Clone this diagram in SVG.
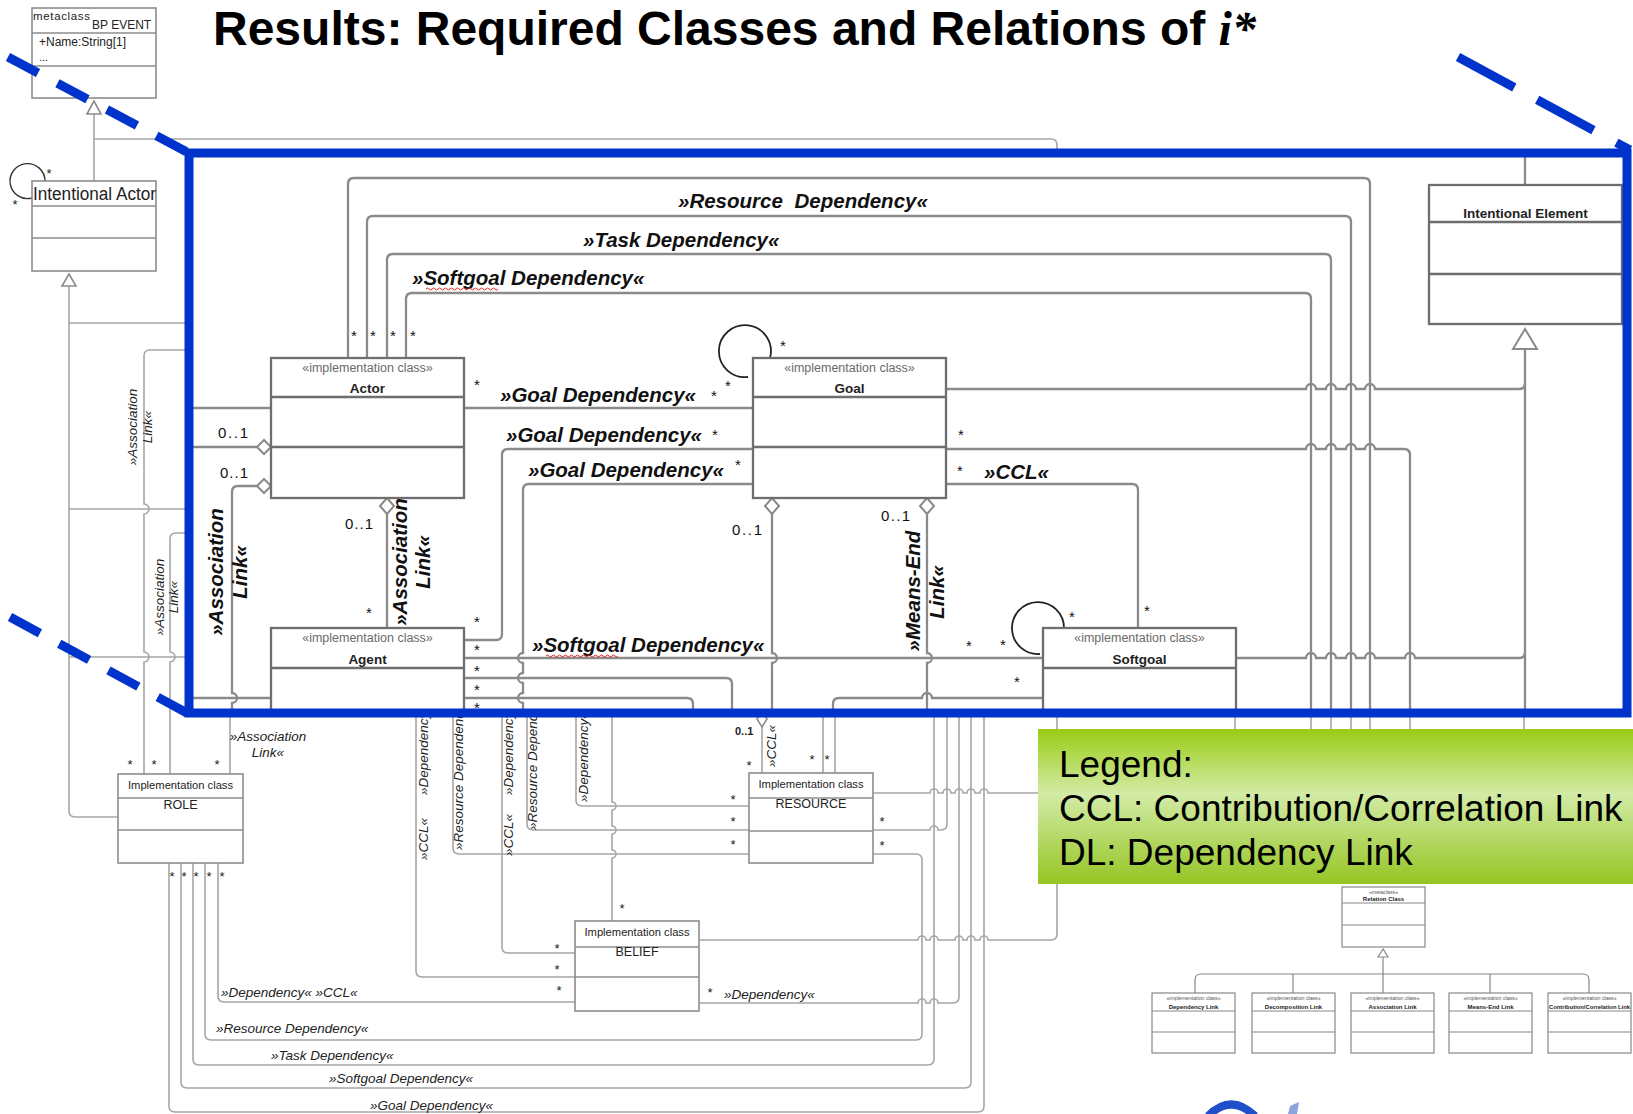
<svg xmlns="http://www.w3.org/2000/svg" width="1633" height="1114" viewBox="0 0 1633 1114">
<defs>
<style>
.o{fill:none;stroke:#a6a6a6;stroke-width:1.6}
.ob{fill:#fff;stroke:#8c8c8c;stroke-width:1.6}
.od{stroke:#8c8c8c;stroke-width:1.4}
.i{fill:none;stroke:#8a8a8a;stroke-width:2.3}
.ib{fill:#fff;stroke:#6e6e6e;stroke-width:2.3}
.dv{stroke:#6e6e6e;stroke-width:2.3}
.dm{fill:#fff;stroke:#8a8a8a;stroke-width:2}
.f{font-family:"Liberation Sans",Arial,sans-serif}
.lbl{font-family:"Liberation Sans",Arial,sans-serif;font-weight:bold;font-style:italic;font-size:20.5px;fill:#111}
.sl{font-family:"Liberation Sans",Arial,sans-serif;font-style:italic;font-size:13.5px;fill:#222}
.st{font-family:"Liberation Sans",Arial,sans-serif;font-size:15px;fill:#111;text-anchor:middle}
.sto{font-family:"Liberation Sans",Arial,sans-serif;font-size:13px;fill:#222;text-anchor:middle}
.hdr{font-family:"Liberation Sans",Arial,sans-serif;font-size:12.5px;fill:#6a6a6a;text-anchor:middle}
.nm{font-family:"Liberation Sans",Arial,sans-serif;font-size:13.5px;font-weight:bold;fill:#222;text-anchor:middle}
.ohdr{font-family:"Liberation Sans",Arial,sans-serif;font-size:11.2px;fill:#222;text-anchor:middle}
.onm{font-family:"Liberation Sans",Arial,sans-serif;font-size:12.5px;fill:#222;text-anchor:middle}
.num{font-family:"Liberation Sans",Arial,sans-serif;font-size:15px;fill:#111}
.blue{fill:none;stroke:#0033cc;stroke-width:9}
.dash{fill:none;stroke:#0033cc;stroke-width:9}
.mb{fill:#fff;stroke:#888;stroke-width:1.2}
.ml{fill:none;stroke:#888;stroke-width:1.2}
.mh{font-family:"Liberation Sans",Arial,sans-serif;font-size:5.2px;fill:#555;text-anchor:middle}
.mn{font-family:"Liberation Sans",Arial,sans-serif;font-size:6px;font-weight:bold;fill:#222;text-anchor:middle}
.leg{font-family:"Liberation Sans",Arial,sans-serif;font-size:37px;fill:#000}
.wv{fill:none;stroke:#e02020;stroke-width:1}
</style>
<linearGradient id="lg" x1="0" y1="0" x2="0" y2="1">
<stop offset="0" stop-color="#99cc14"/>
<stop offset="0.42" stop-color="#d3eba6"/>
<stop offset="1" stop-color="#95c523"/>
</linearGradient>
<clipPath id="cb"><rect x="189" y="153" width="1438" height="560"/></clipPath>
</defs>
<rect x="0" y="0" width="1633" height="1114" fill="#fff"/>

<!-- ===== outer (original) diagram connectors ===== -->
<g id="connectors-outer">
<path class="o" d="M94 114V181"/>
<path class="o" d="M94 139H1051Q1057 139 1057 145V153"/>
<path class="o" d="M69 286V811Q69 817 75 817H118"/>
<path class="o" d="M69 323H189"/>
<path class="o" d="M69 509H189"/>
<path class="o" d="M69 657H189"/>
<path class="o" d="M189 350H150Q144 350 144 356V504a5 5 0 0 1 0 10V652a5 5 0 0 1 0 10V774"/>
<path class="o" d="M189 533H176Q170 533 170 539V652a5 5 0 0 1 0 10V774"/>
<path class="o" d="M230 713V774"/>
<path class="o" d="M218 863V996Q218 1002 224 1002H575"/>
<path class="o" d="M205 863V1034Q205 1040 211 1040H916Q922 1040 922 1034V860Q922 854 916 854H873"/>
<path class="o" d="M193 863V1059Q193 1065 199 1065H928Q934 1065 934 1059V713"/>
<path class="o" d="M181 863V1082Q181 1088 187 1088H965Q971 1088 971 1082V713"/>
<path class="o" d="M169 863V1106Q169 1112 175 1112H978Q984 1112 984 1106V713"/>
<path class="o" d="M873 793H930a4 4 0 0 1 8 0H943a4 4 0 0 1 8 0H955a4 4 0 0 1 8 0H967a4 4 0 0 1 8 0H980a4 4 0 0 1 8 0H1045"/>
<path class="o" d="M873 830H930a4 4 0 0 1 8 0H941Q947 830 947 824V713"/>
<path class="o" d="M699 940H918a4 4 0 0 1 8 0H930a4 4 0 0 1 8 0H955a4 4 0 0 1 8 0H967a4 4 0 0 1 8 0H980a4 4 0 0 1 8 0H1051Q1057 940 1057 934V713"/>
<path class="o" d="M699 1003H918a4 4 0 0 1 8 0H930a4 4 0 0 1 8 0H953Q959 1003 959 997V713"/>
<path class="o" d="M416 713V971Q416 977 422 977H575"/>
<path class="o" d="M749 854H459Q453 854 453 848V713"/>
<path class="o" d="M502 713V947Q502 953 508 953H575"/>
<path class="o" d="M527 713V824Q527 830 533 830H749"/>
<path class="o" d="M576 713V800Q576 806 582 806H749"/>
<path class="o" d="M612 713V802a4 4 0 0 1 0 8V826a4 4 0 0 1 0 8V850a4 4 0 0 1 0 8V921"/>
<path class="o" d="M762 727V773"/>
<polygon class="ob" points="762,711 767,719 762,727 757,719"/>
<path class="o" d="M823 713V773M835 713V773"/>
<path class="o" d="M1235 713V745M1311 713V745M1331 713V745M1351 713V745M1370 713V745M1410 713V745M1524 713V745"/>
<polygon class="ob" points="94,101 87,114 101,114"/>
<polygon class="ob" points="69,274 62,286 76,286"/>
<path d="M45 181A17.5 17.5 0 1 0 32 198" fill="none" stroke="#333" stroke-width="1.4"/>
</g>

<g id="labels-outer">
<text class="sto" x="49" y="178" font-size="12">*</text>
<text class="sto" x="15" y="209" font-size="12">*</text>
<text class="sl" font-size="13" transform="translate(137,427) rotate(-90)" text-anchor="middle">»Association</text>
<text class="sl" font-size="13" transform="translate(152,427) rotate(-90)" text-anchor="middle">Link«</text>
<text class="sl" font-size="13" transform="translate(164,597) rotate(-90)" text-anchor="middle">»Association</text>
<text class="sl" font-size="13" transform="translate(178,597) rotate(-90)" text-anchor="middle">Link«</text>
<text class="sl" font-size="13" x="268" y="741" text-anchor="middle">»Association</text>
<text class="sl" font-size="13" x="268" y="757" text-anchor="middle">Link«</text>
<text class="sto" x="130" y="769">*</text><text class="sto" x="154" y="769">*</text><text class="sto" x="217" y="769">*</text>
<text class="sto" x="172" y="881">*</text><text class="sto" x="184" y="881">*</text><text class="sto" x="196" y="881">*</text><text class="sto" x="209" y="881">*</text><text class="sto" x="222" y="881">*</text>
<text class="sl" x="221" y="997">»Dependency« »CCL«</text>
<text class="sl" x="216" y="1033">»Resource Dependency«</text>
<text class="sl" x="271" y="1060">»Task Dependency«</text>
<text class="sl" x="329" y="1083">»Softgoal Dependency«</text>
<text class="sl" x="370" y="1110">»Goal Dependency«</text>
<text class="sl" x="724" y="999">»Dependency«</text>
<text class="sl" font-size="13" transform="translate(428,860) rotate(-90)">»CCL«</text>
<text class="sl" font-size="13" transform="translate(428,795) rotate(-90)">»Dependency«</text>
<text class="sl" font-size="13" transform="translate(463,850) rotate(-90)">»Resource Dependency«</text>
<text class="sl" font-size="13" transform="translate(513,856) rotate(-90)">»CCL«</text>
<text class="sl" font-size="13" transform="translate(513,795) rotate(-90)">»Dependency«</text>
<text class="sl" font-size="13" transform="translate(537,830) rotate(-90)">»Resource Dependency«</text>
<text class="sl" font-size="13" transform="translate(588,802) rotate(-90)">»Dependency«</text>
<text class="sl" font-size="12" transform="translate(776,767) rotate(-90)">»CCL«</text>
<text class="f" x="735" y="735" font-size="11" font-weight="bold" fill="#222">0..1</text>
<text class="sto" x="733" y="804">*</text><text class="sto" x="733" y="826">*</text><text class="sto" x="733" y="849">*</text>
<text class="sto" x="882" y="826">*</text><text class="sto" x="882" y="850">*</text>
<text class="sto" x="749" y="770">*</text><text class="sto" x="812" y="764">*</text><text class="sto" x="827" y="764">*</text>
<text class="sto" x="557" y="953">*</text><text class="sto" x="557" y="974">*</text><text class="sto" x="559" y="995">*</text>
<text class="sto" x="622" y="913">*</text><text class="sto" x="710" y="997">*</text>
</g>

<g id="bp-event">
<rect class="ob" x="32" y="8" width="124" height="90"/>
<line class="od" x1="32" y1="33" x2="156" y2="33"/><line class="od" x1="32" y1="66" x2="156" y2="66"/>
<text class="f" x="33" y="20" font-size="11.5" fill="#222" textLength="57">metaclass</text>
<text class="f" x="92" y="29" font-size="12" fill="#222">BP EVENT</text>
<text class="f" x="39" y="46" font-size="12" fill="#222">+Name:String[1]</text>
<text class="f" x="39" y="61" font-size="11" fill="#222">...</text>
</g>
<g id="intentional-actor">
<rect class="ob" x="32" y="181" width="124" height="90"/>
<line class="od" x1="32" y1="206" x2="156" y2="206"/><line class="od" x1="32" y1="238" x2="156" y2="238"/>
<text class="f" x="33" y="200" font-size="18" fill="#222" textLength="123" lengthAdjust="spacingAndGlyphs">Intentional Actor</text>
</g>
<g id="role">
<rect class="ob" x="118" y="774" width="125" height="89"/>
<line class="od" x1="118" y1="798" x2="243" y2="798"/><line class="od" x1="118" y1="830" x2="243" y2="830"/>
<text class="ohdr" x="180.5" y="789">Implementation class</text>
<text class="onm" x="180.5" y="809">ROLE</text>
</g>
<g id="resource">
<rect class="ob" x="749" y="773" width="124" height="90"/>
<line class="od" x1="749" y1="798" x2="873" y2="798"/><line class="od" x1="749" y1="831" x2="873" y2="831"/>
<text class="ohdr" x="811" y="788">Implementation class</text>
<text class="onm" x="811" y="808" font-size="13">RESOURCE</text>
</g>
<g id="belief">
<rect class="ob" x="575" y="921" width="124" height="90"/>
<line class="od" x1="575" y1="947" x2="699" y2="947"/><line class="od" x1="575" y1="977" x2="699" y2="977"/>
<text class="ohdr" x="637" y="936">Implementation class</text>
<text class="onm" x="637" y="956">BELIEF</text>
</g>

<!-- ===== zoom box ===== -->
<rect x="189" y="153" width="1438" height="560" fill="#fff"/>
<g clip-path="url(#cb)">
<g id="connectors-inner">
<path class="i" d="M348 358V184Q348 178 354 178H1364Q1370 178 1370 184V713"/>
<path class="i" d="M367 358V222Q367 216 373 216H1345Q1351 216 1351 222V713"/>
<path class="i" d="M387 358V260Q387 254 393 254H1325Q1331 254 1331 260V713"/>
<path class="i" d="M406 358V299Q406 293 412 293H1305Q1311 293 1311 299V713"/>
<path class="i" d="M946 389H1306a5 5 0 0 1 10 0H1326a5 5 0 0 1 10 0H1346a5 5 0 0 1 10 0H1365a5 5 0 0 1 10 0H1519Q1525 389 1525 383"/>
<path class="i" d="M1525 349V713M1525 157V185"/>
<polygon class="dm" points="1525,329 1513,349 1537,349"/>
<path class="i" d="M946 449H1306a5 5 0 0 1 10 0H1326a5 5 0 0 1 10 0H1346a5 5 0 0 1 10 0H1365a5 5 0 0 1 10 0H1404Q1410 449 1410 455V713"/>
<path class="i" d="M946 484H1132Q1138 484 1138 490V628"/>
<path class="i" d="M1236 658H1306a5 5 0 0 1 10 0H1326a5 5 0 0 1 10 0H1346a5 5 0 0 1 10 0H1365a5 5 0 0 1 10 0H1405a5 5 0 0 1 10 0H1519Q1525 658 1525 652"/>
<path class="i" d="M464 408H753"/>
<path class="i" d="M464 640H496Q502 640 502 634V455Q502 449 508 449H753"/>
<path class="i" d="M753 484H529Q523 484 523 490V653a5 5 0 0 0 0 10V673a5 5 0 0 0 0 10V693a5 5 0 0 0 0 10V713"/>
<path class="i" d="M464 658H1043"/>
<path class="i" d="M464 678H726Q732 678 732 684V713"/>
<path class="i" d="M464 698H687Q693 698 693 704V713"/>
<path class="i" d="M772 514V653a5 5 0 0 1 0 10V713"/>
<path class="i" d="M927 514V653a5 5 0 0 1 0 10V713"/>
<path class="i" d="M1043 698H932a5 5 0 0 0 -10 0H839Q833 698 833 704V713"/>
<path class="i" d="M193 408H271M193 447H257"/>
<path class="i" d="M257 486H238Q232 486 232 492V693a5 5 0 0 1 0 10V713"/>
<path class="i" d="M193 698H271"/>
<path class="i" d="M387 514V628"/>
<polygon class="dm" points="772,498 779,506 772,514 765,506"/>
<polygon class="dm" points="927,498 934,506 927,514 920,506"/>
<polygon class="dm" points="257,447 264,440 271,447 264,454"/>
<polygon class="dm" points="257,486 264,479 271,486 264,493"/>
<polygon class="dm" points="387,498 394,506 387,514 380,506"/>
<path d="M770 358A26 26 0 1 0 748 377" fill="none" stroke="#222" stroke-width="1.8"/>
<path d="M1064 628A26 26 0 1 0 1040 654" fill="none" stroke="#222" stroke-width="1.8"/>
</g>

<g id="actor">
<rect class="ib" x="271" y="358" width="193" height="140"/>
<line class="dv" x1="271" y1="397" x2="464" y2="397"/><line class="dv" x1="271" y1="447" x2="464" y2="447"/>
<text class="hdr" x="367.5" y="372">«implementation class»</text>
<text class="nm" x="367.5" y="393">Actor</text>
</g>
<g id="goal">
<rect class="ib" x="753" y="358" width="193" height="140"/>
<line class="dv" x1="753" y1="397" x2="946" y2="397"/><line class="dv" x1="753" y1="447" x2="946" y2="447"/>
<text class="hdr" x="849.5" y="372">«implementation class»</text>
<text class="nm" x="849.5" y="393">Goal</text>
</g>
<g id="agent">
<rect class="ib" x="271" y="628" width="193" height="110"/>
<line class="dv" x1="271" y1="668" x2="464" y2="668"/>
<text class="hdr" x="367.5" y="642">«implementation class»</text>
<text class="nm" x="367.5" y="664">Agent</text>
</g>
<g id="softgoal">
<rect class="ib" x="1043" y="628" width="193" height="110"/>
<line class="dv" x1="1043" y1="668" x2="1236" y2="668"/>
<text class="hdr" x="1139.5" y="642">«implementation class»</text>
<text class="nm" x="1139.5" y="664">Softgoal</text>
</g>
<g id="intentional-element">
<rect class="ib" x="1429" y="185" width="193" height="139"/>
<line class="dv" x1="1429" y1="222" x2="1622" y2="222"/><line class="dv" x1="1429" y1="274" x2="1622" y2="274"/>
<text class="nm" x="1525.5" y="218" font-size="13">Intentional Element</text>
</g>

<g id="labels-inner">
<text class="lbl" x="678" y="208">»Resource <tspan dx="6">Dependency«</tspan></text>
<text class="lbl" x="583" y="247">»Task Dependency«</text>
<text class="lbl" x="412" y="285">»Softgoal Dependency«</text>
<path class="wv" d="M426 289q1.5 -2 3 0t3 0t3 0t3 0t3 0t3 0t3 0t3 0t3 0t3 0t3 0t3 0t3 0t3 0t3 0t3 0t3 0t3 0t3 0t3 0t3 0t3 0t3 0t3 0"/>
<text class="lbl" x="500" y="402">»Goal Dependency«</text>
<text class="lbl" x="506" y="442">»Goal Dependency«</text>
<text class="lbl" x="528" y="477">»Goal Dependency«</text>
<text class="lbl" x="984" y="479">»CCL«</text>
<text class="lbl" x="532" y="652">»Softgoal Dependency«</text>
<path class="wv" d="M546 656q1.5 -2 3 0t3 0t3 0t3 0t3 0t3 0t3 0t3 0t3 0t3 0t3 0t3 0t3 0t3 0t3 0t3 0t3 0t3 0t3 0t3 0t3 0t3 0t3 0t3 0"/>
<text class="lbl" transform="translate(407,562) rotate(-90)" text-anchor="middle">»Association</text>
<text class="lbl" transform="translate(430,562) rotate(-90)" text-anchor="middle">Link«</text>
<text class="lbl" transform="translate(223,572) rotate(-90)" text-anchor="middle">»Association</text>
<text class="lbl" transform="translate(247,572) rotate(-90)" text-anchor="middle">Link«</text>
<text class="lbl" transform="translate(920,591) rotate(-90)" text-anchor="middle">»Means-End</text>
<text class="lbl" transform="translate(944,592) rotate(-90)" text-anchor="middle">Link«</text>
<text class="num" x="218" y="438" textLength="30">0..1</text>
<text class="num" x="220" y="478" textLength="28">0..1</text>
<text class="num" x="345" y="529" textLength="28">0..1</text>
<text class="num" x="732" y="535" textLength="30">0..1</text>
<text class="num" x="881" y="521" textLength="29">0..1</text>
<text class="st" x="354" y="341">*</text><text class="st" x="373" y="341">*</text><text class="st" x="393" y="341">*</text><text class="st" x="413" y="341">*</text>
<text class="st" x="477" y="390">*</text>
<text class="st" x="714" y="401">*</text><text class="st" x="728" y="391">*</text><text class="st" x="783" y="351">*</text>
<text class="st" x="715" y="440">*</text><text class="st" x="738" y="470">*</text>
<text class="st" x="961" y="440">*</text><text class="st" x="960" y="476">*</text>
<text class="st" x="1147" y="616">*</text><text class="st" x="1072" y="622">*</text>
<text class="st" x="969" y="651">*</text><text class="st" x="1003" y="650">*</text><text class="st" x="1017" y="687">*</text>
<text class="st" x="369" y="618">*</text>
<text class="st" x="477" y="627">*</text><text class="st" x="477" y="655">*</text><text class="st" x="477" y="676">*</text><text class="st" x="477" y="695">*</text><text class="st" x="477" y="713">*</text>
</g>
</g>
<rect class="blue" x="189" y="153" width="1438" height="560"/>
<g id="zoom-lines">
<line class="dash" x1="8" y1="57" x2="187" y2="152" stroke-dasharray="34 22"/>
<line class="dash" x1="10" y1="617" x2="187" y2="713" stroke-dasharray="34 22"/>
<line class="dash" x1="1458" y1="57" x2="1630" y2="150" stroke-dasharray="64 26"/>
</g>

<!-- ===== legend ===== -->
<g id="legend">
<rect x="1038" y="729" width="600" height="155" fill="url(#lg)"/>
<text class="leg" x="1059" y="777">Legend:</text>
<text class="leg" x="1059" y="821">CCL: Contribution/Correlation Link</text>
<text class="leg" x="1059" y="865">DL: Dependency Link</text>
</g>

<!-- ===== mini relation-class diagram ===== -->
<g id="mini-connectors">
<path class="ml" d="M1383 957V993"/>
<path class="ml" d="M1195 993V980Q1195 974 1201 974H1583Q1589 974 1589 980V993M1293 974V993M1490 974V993"/>
<polygon class="mb" points="1383,949 1378,957 1388,957"/>
</g>
<g id="relation-class">
<rect class="mb" x="1342" y="887" width="83" height="60"/>
<line class="ml" x1="1342" y1="903" x2="1425" y2="903"/><line class="ml" x1="1342" y1="925" x2="1425" y2="925"/>
<text class="mh" x="1383.5" y="893.5">«metaclass»</text>
<text class="mn" x="1383.5" y="901">Relation Class</text>
</g>
<g id="dependency-link">
<rect class="mb" x="1152" y="993" width="83" height="60"/>
<line class="ml" x1="1152" y1="1011" x2="1235" y2="1011"/><line class="ml" x1="1152" y1="1032" x2="1235" y2="1032"/>
<text class="mh" x="1193.5" y="999.5">«implementation class»</text>
<text class="mn" x="1193.5" y="1008.5">Dependency Link</text>
</g>
<g id="decomposition-link">
<rect class="mb" x="1252" y="993" width="83" height="60"/>
<line class="ml" x1="1252" y1="1011" x2="1335" y2="1011"/><line class="ml" x1="1252" y1="1032" x2="1335" y2="1032"/>
<text class="mh" x="1293.5" y="999.5">«implementation class»</text>
<text class="mn" x="1293.5" y="1008.5">Decomposition Link</text>
</g>
<g id="association-link">
<rect class="mb" x="1351" y="993" width="83" height="60"/>
<line class="ml" x1="1351" y1="1011" x2="1434" y2="1011"/><line class="ml" x1="1351" y1="1032" x2="1434" y2="1032"/>
<text class="mh" x="1392.5" y="999.5">«implementation class»</text>
<text class="mn" x="1392.5" y="1008.5">Association Link</text>
</g>
<g id="means-end-link">
<rect class="mb" x="1449" y="993" width="83" height="60"/>
<line class="ml" x1="1449" y1="1011" x2="1532" y2="1011"/><line class="ml" x1="1449" y1="1032" x2="1532" y2="1032"/>
<text class="mh" x="1490.5" y="999.5">«implementation class»</text>
<text class="mn" x="1490.5" y="1008.5">Means-End Link</text>
</g>
<g id="contribution-link">
<rect class="mb" x="1548" y="993" width="83" height="60"/>
<line class="ml" x1="1548" y1="1011" x2="1631" y2="1011"/><line class="ml" x1="1548" y1="1032" x2="1631" y2="1032"/>
<text class="mh" x="1589.5" y="999.5">«implementation class»</text>
<text class="mn" x="1589.5" y="1008.5" textLength="81" lengthAdjust="spacingAndGlyphs">Contribution/Correlation Link</text>
</g>
<g id="logo">
<path d="M1208 1116Q1231 1093 1255 1116" fill="none" stroke="#1f4fc9" stroke-width="8"/>
<polygon points="1290,1106 1299,1102 1297,1114 1288,1114" fill="#8aa4e0"/>
</g>

<text class="f" x="213" y="45" font-size="48" font-weight="bold" fill="#000">Results: Required Classes and Relations of <tspan font-family="'Liberation Serif',serif" font-style="italic" font-weight="bold">i*</tspan></text>
</svg>
